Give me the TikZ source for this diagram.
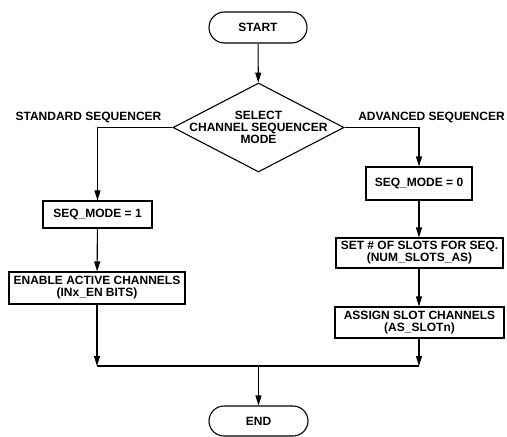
\documentclass[tikz,border=0pt]{standalone}
\usepackage{fontspec}
\setmainfont{Liberation Sans}
\usepackage{tikz}
\usetikzlibrary{arrows.meta,positioning,shapes.geometric,shapes.misc}
\tikzset{
  blk/.style  ={draw=black,fill=white,line width=1.1pt,align=center,inner sep=2pt},
  term/.style ={blk,rounded rectangle,minimum width=102,minimum height=31},
  dec/.style  ={blk,diamond,minimum width=171,minimum height=89,inner sep=0pt},
  lbl/.style  ={inner sep=0pt},
  sig/.style  ={-{Triangle[length=10pt,width=6pt]},draw=black,line width=1.1pt},
  wire/.style ={draw=black,line width=1.1pt},
}

\begin{document}
\begin{tikzpicture}[x=1pt, y=-1pt, font=\bfseries\fontsize{12}{12}\selectfont]
\useasboundingbox (0,0) rectangle (507,437);

% ---- top: start and mode choice ------------------------------------------
\node[term] (start) at (258,27.5) {START};
\node[dec]  (mode)  at (258.5,127.5) {};
\node[lbl,align=center] (modetxt) at (mode) {SELECT\\CHANNEL SEQUENCER\\MODE};
\draw[sig] (start) -- (mode);

\node[lbl] (stdlbl) at (88.5,117) {STANDARD SEQUENCER};
\node[lbl] (advlbl) at (431.5,117) {ADVANCED SEQUENCER};

% ---- standard branch -----------------------------------------------------
\node[blk,minimum width=109,minimum height=27] (seqstd) at (97.5,214.5) {SEQ\_MODE = 1};
\node[blk,minimum width=176,minimum height=32] (enable) at (97,288)
  {ENABLE ACTIVE CHANNELS\\(INx\_EN BITS)};
\draw[sig] (mode.west) -| (seqstd.north);
\draw[sig] (seqstd) -- (enable);

% ---- advanced branch -----------------------------------------------------
\node[blk,minimum width=106,minimum height=33] (seqadv) at (419,183.5) {SEQ\_MODE = 0};
\node[blk,minimum width=167,minimum height=30] (slots)  at (419.5,253)
  {SET \# OF SLOTS FOR SEQ.\\(NUM\_SLOTS\_AS)};
\node[blk,minimum width=169,minimum height=31] (assign) at (419.5,322.5)
  {ASSIGN SLOT CHANNELS\\(AS\_SLOTn)};
\draw[sig] (mode.east) -| (seqadv.north);
\draw[sig] (seqadv) -- (slots.north -| seqadv);
\draw[sig] (slots.south -| seqadv) -- (assign.north -| seqadv);

% ---- merge and end -------------------------------------------------------
\coordinate (joinstd) at (97,366);
\coordinate (joinadv) at (419,366);
\coordinate (joinmid) at (258.5,366);
\node[term,minimum width=103,minimum height=30] (end) at (258.5,421) {END};
\draw[sig] (enable.south -| joinstd) -- (joinstd);
\draw[sig] (assign.south -| joinadv) -- (joinadv);
\draw[wire] (joinstd) -- (joinadv);
\draw[sig] (joinmid) -- (end);
\end{tikzpicture}
\end{document}
